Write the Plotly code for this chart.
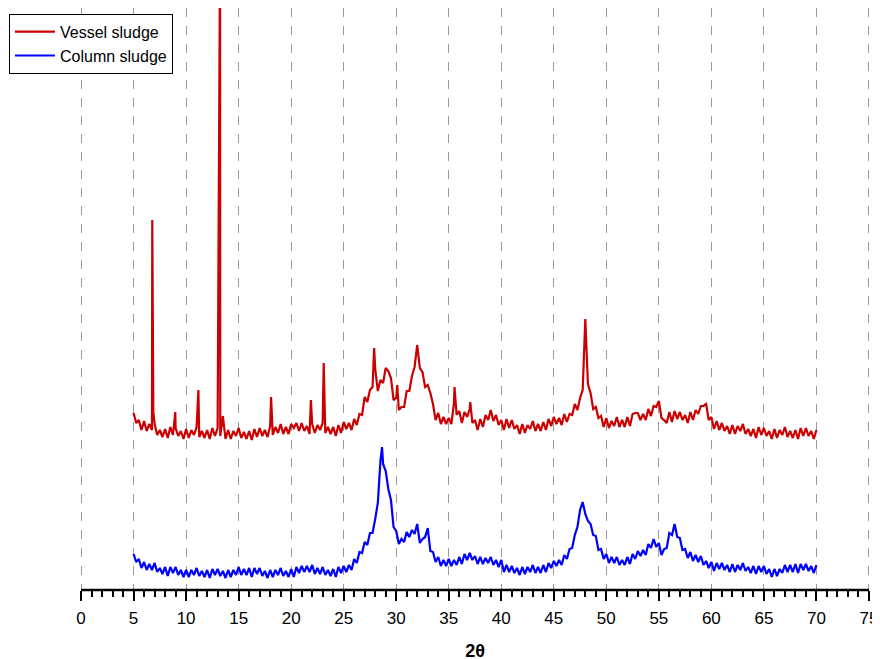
import numpy as np
import plotly.graph_objects as go

# 2-theta grid (0.25 deg step) for read-off intensities (arbitrary units)
two_theta = np.round(np.arange(5.0, 70.0001, 0.25), 2)

vessel_base = [
    177, 167, 170, 160,  169, 159, 166, 160,  166, 155, 160, 153,  161, 152, 163, 155,
    162, 154, 159, 151,  161, 152, 160, 155,  163, 153, 159, 152,  160, 151, 162, 154,
    162, 154, 174, 151,  160, 151, 159, 154,  162, 152, 158, 151,  159, 150, 161, 153,
    162, 154, 160, 153,  164, 155, 163, 157,  166, 156, 163, 156,  166, 162, 167, 159,
    167, 159, 164, 156,  166, 157, 165, 160,  167, 157, 163, 156,  163, 154, 165, 157,
    168, 161, 167, 160,  171, 165, 176, 175,  193, 188, 200, 203,  221, 199, 210, 207,
    222, 219, 212, 190,  192, 180, 183, 183,  199, 199, 214, 223,  245, 222, 218, 203,
    205, 197, 186, 170,  177, 166, 173, 166,  172, 166, 187, 175,  179, 167, 178, 173,
    181, 167, 170, 160,  171, 163, 175, 170,  180, 169, 175, 165,  170, 160, 171, 162,
    170, 161, 165, 156,  166, 157, 165, 161,  169, 159, 166, 159,  168, 160, 171, 164,
    173, 166, 172, 165,  176, 168, 176, 175,  186, 180, 192, 200,  271, 206, 197, 181,
    183, 172, 174, 163,  172, 162, 169, 164,  173, 163, 170, 163,  173, 164, 176, 177,
    177, 170, 176, 170,  181, 174, 184, 183,  189, 172, 170, 167,  178, 168, 179, 171,
    178, 170, 175, 167,  178, 170, 180, 176,  184, 184, 186, 170,  173, 161, 169, 160,
    167, 159, 164, 156,  165, 156, 164, 159,  166, 156, 161, 154,  161, 152, 163, 155,
    162, 154, 159, 151,  161, 152, 160, 155,  163, 153, 159, 152,  160, 151, 162, 154,
    162, 154, 159, 151,  160,
]

# narrow reflections of the vessel sludge
vessel_peak_x = [6.78, 6.88, 8.97, 11.17, 13.23, 18.09, 21.88, 23.10, 27.90, 30.10, 35.55, 37.05]
vessel_peak_y = [370, 178, 178, 200, 640, 193, 190, 227, 242, 205, 203, 188]

column_base = [
    36, 28, 31, 22,  28, 20, 26, 20,  27, 18, 22, 16,  23, 14, 23, 17,
    23, 15, 20, 13,  20, 13, 20, 15,  22, 14, 19, 13,  20, 12, 21, 15,
    21, 14, 19, 12,  20, 13, 20, 15,  23, 15, 21, 15,  22, 13, 22, 16,
    22, 14, 19, 12,  20, 13, 20, 15,  22, 14, 19, 13,  21, 13, 23, 17,
    24, 18, 24, 18,  25, 16, 22, 16,  23, 15, 20, 14,  21, 13, 23, 17,
    24, 18, 25, 20,  31, 27, 38, 37,  48, 45, 57, 57,  71, 87, 129, 126,
    119, 101, 90, 63,  59, 46, 51, 48,  58, 53, 60, 56,  66, 47, 51, 53,
    62, 39, 38, 28,  33, 24, 30, 24,  31, 24, 30, 25,  33, 26, 36, 30,
    37, 30, 34, 26,  33, 26, 32, 27,  33, 25, 30, 23,  30, 18, 25, 18,
    24, 17, 22, 15,  23, 16, 23, 18,  25, 17, 23, 17,  25, 18, 27, 22,
    29, 24, 30, 25,  35, 31, 41, 42,  55, 63, 80, 88,  76, 69, 66, 55,
    54, 40, 41, 31,  36, 27, 33, 27,  33, 25, 30, 25,  33, 26, 36, 31,
    39, 34, 40, 35,  46, 42, 51, 43,  47, 35, 41, 42,  57, 55, 66, 53,
    52, 40, 41, 32,  38, 29, 35, 28,  34, 25, 29, 22,  28, 19, 27, 21,
    27, 20, 25, 18,  26, 18, 25, 20,  27, 19, 23, 17,  24, 16, 24, 18,
    24, 16, 21, 13,  21, 14, 21, 17,  25, 18, 25, 18,  26, 17, 26, 20,
    26, 19, 24, 17,  25,
]

column_peak_x = [28.65]
column_peak_y = [143]

x_ticks = list(range(0, 76, 5))
x_title = "2θ"
series_names = ["Vessel sludge", "Column sludge"]
series_colors = ["#CC0000", "#0000FF"]


def merge(xb, yb, xp, yp):
    xs = np.concatenate([np.asarray(xb, float), np.asarray(xp, float)])
    ys = np.concatenate([np.asarray(yb, float), np.asarray(yp, float)])
    order = np.argsort(xs, kind="stable")
    return xs[order], ys[order]


vx, vy = merge(two_theta, vessel_base, vessel_peak_x, vessel_peak_y)
cx, cy = merge(two_theta, column_base, column_peak_x, column_peak_y)

fig = go.Figure()
fig.add_trace(go.Scatter(x=vx, y=vy, mode="lines", name=series_names[0],
                         line=dict(color=series_colors[0], width=2.2)))
fig.add_trace(go.Scatter(x=cx, y=cy, mode="lines", name=series_names[1],
                         line=dict(color=series_colors[1], width=2.2)))

FONT = "Liberation Sans, Arial, sans-serif"

fig.update_layout(
    width=880, height=659,
    margin=dict(l=72, r=18, t=0, b=77, autoexpand=False),
    paper_bgcolor="white", plot_bgcolor="white",
    font=dict(family=FONT, size=17, color="black"),
    showlegend=True,
    legend=dict(x=-0.0899, y=0.99, xanchor="left", yanchor="top",
                bgcolor="white", bordercolor="black", borderwidth=1,
                font=dict(family=FONT, size=16, color="black"),
                tracegroupgap=0, itemwidth=40),
    xaxis=dict(range=[-0.1, 75.1], tickmode="array", tickvals=x_ticks,
               ticktext=[str(t) for t in x_ticks],
               showline=False,
               ticks="outside", ticklen=10, tickwidth=2, tickcolor="black",
               ticklabelstandoff=3,
               showgrid=True, gridcolor="#9a9a9a", griddash="dash", gridwidth=1,
               zeroline=False,
               minor=dict(dtick=1, tick0=0, ticks="outside", ticklen=6, tickwidth=2,
                          tickcolor="black", showgrid=False),
               tickfont=dict(family=FONT, size=17, color="black"),
               title=dict(text="<b>" + x_title + "</b>", standoff=16,
                          font=dict(family=FONT, size=18, color="black"))),
    yaxis=dict(range=[0, 582], visible=False, showgrid=False, zeroline=False),
)

# axis baseline of the x axis (paper coords)
fig.add_shape(type="line", xref="x", yref="paper", x0=x_ticks[0], x1=x_ticks[-1],
              y0=0, y1=0, line=dict(color="black", width=2.5))

fig.write_html("out.html")
